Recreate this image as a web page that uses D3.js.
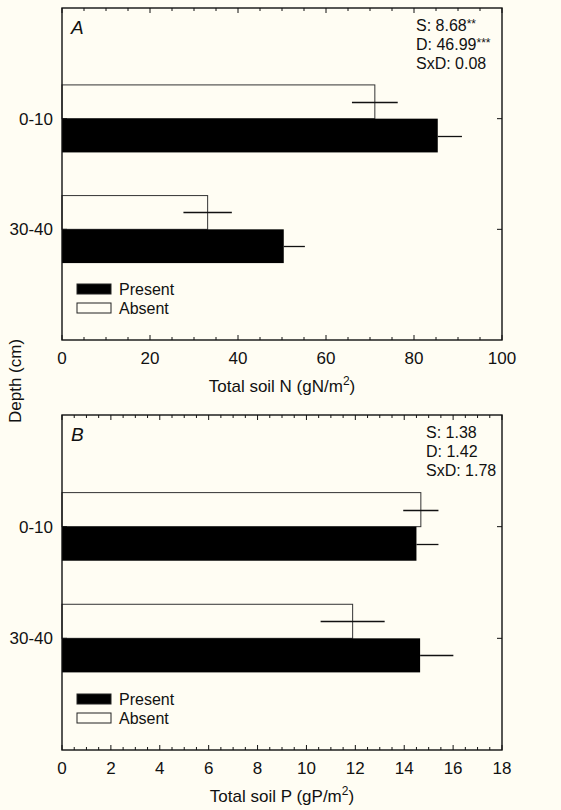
<!DOCTYPE html>
<html>
<head>
<meta charset="utf-8">
<script src="https://cdn.jsdelivr.net/npm/d3@7"></script>
<style>
  body { margin: 0; background: #fffdf3; }
  svg { display: block; font-family: "Liberation Sans", Arial, sans-serif; }
</style>
</head>
<body>
<svg width="561" height="810"></svg>
<script>
// depth classes (y categories)
const depths = ["0-10", "30-40"];
const seriesNames = ["Present", "Absent"];

// panel A: total soil N (gN/m2)
const nPresent = [85.4, 50.4];
const nPresentSe = [5.5, 4.8];
const nAbsent = [71.1, 33.1];
const nAbsentSe = [5.2, 5.5];
const nTicks = [0, 20, 40, 60, 80, 100];
const nStats = [["S: 8.68", "**"], ["D: 46.99", "***"], ["SxD: 0.08", ""]];

// panel B: total soil P (gP/m2)
const pPresent = [14.5, 14.65];
const pPresentSe = [0.9, 1.36];
const pAbsent = [14.68, 11.89];
const pAbsentSe = [0.72, 1.31];
const pTicks = [0, 2, 4, 6, 8, 10, 12, 14, 16, 18];
const pStats = [["S: 1.38", ""], ["D: 1.42", ""], ["SxD: 1.78", ""]];

const svg = d3.select("svg");
const left = 62;
const right = 502;

function drawPanel(p) {
  const g = svg.append("g");
  const x = d3.scaleLinear().domain([0, p.max]).range([left, right]);
  // categories sit at 1 and 2 on a 0..3 scale
  const y = d3.scaleLinear().domain([0, 3]).range([p.top, p.bottom]);
  const barH = y(0.305) - y(0);

  const rows = depths.map((d, i) => ({
    depth: d,
    pos: i + 1,
    present: p.present[i],
    presentSe: p.presentSe[i],
    absent: p.absent[i],
    absentSe: p.absentSe[i]
  }));

  // absent bars (open) above the category line, present (filled) below
  g.selectAll(".absent")
    .data(rows)
    .enter()
    .append("rect")
    .attr("x", x(0))
    .attr("y", d => y(d.pos) - barH)
    .attr("width", d => x(d.absent) - x(0))
    .attr("height", barH)
    .attr("fill", "none")
    .attr("stroke", "#333")
    .attr("stroke-width", 1);

  g.selectAll(".absent-err")
    .data(rows)
    .enter()
    .append("line")
    .attr("x1", d => x(d.absent - d.absentSe))
    .attr("x2", d => x(d.absent + d.absentSe))
    .attr("y1", d => Math.round(y(d.pos) - barH / 2) + 0.5)
    .attr("y2", d => Math.round(y(d.pos) - barH / 2) + 0.5)
    .attr("stroke", "#111")
    .attr("stroke-width", 1.3);

  g.selectAll(".present")
    .data(rows)
    .enter()
    .append("rect")
    .attr("x", x(0))
    .attr("y", d => y(d.pos))
    .attr("width", d => x(d.present) - x(0))
    .attr("height", barH)
    .attr("fill", "#000");

  // lower half of the error bar is hidden inside the filled bar
  g.selectAll(".present-err")
    .data(rows)
    .enter()
    .append("line")
    .attr("x1", d => x(d.present))
    .attr("x2", d => x(d.present + d.presentSe))
    .attr("y1", d => Math.round(y(d.pos) + barH / 2) + 0.5)
    .attr("y2", d => Math.round(y(d.pos) + barH / 2) + 0.5)
    .attr("stroke", "#111")
    .attr("stroke-width", 1.3);

  // frame
  g.append("rect")
    .attr("x", left)
    .attr("y", p.top)
    .attr("width", right - left)
    .attr("height", p.bottom - p.top)
    .attr("fill", "none")
    .attr("stroke", "#111")
    .attr("stroke-width", 1.4);

  // inward ticks, major + minor, bottom and top
  const minor = d3.range(0, p.max + 1e-9, p.minorStep);
  [[p.bottom, -1], [p.top, 1]].forEach(([yy, dir]) => {
    g.selectAll(null)
      .data(minor)
      .enter()
      .append("line")
      .attr("x1", d => x(d))
      .attr("x2", d => x(d))
      .attr("y1", yy)
      .attr("y2", d => yy + dir * (p.ticks.includes(+d.toFixed(3)) ? 5 : 3))
      .attr("stroke", "#111")
      .attr("stroke-width", 1);
  });

  // category ticks on both sides
  [[left, 1], [right, -1]].forEach(([xx, dir]) => {
    g.selectAll(null)
      .data(rows)
      .enter()
      .append("line")
      .attr("x1", xx)
      .attr("x2", xx + dir * 5)
      .attr("y1", d => y(d.pos))
      .attr("y2", d => y(d.pos))
      .attr("stroke", "#111")
      .attr("stroke-width", 1);
  });

  g.selectAll(".xlab")
    .data(p.ticks)
    .enter()
    .append("text")
    .attr("x", d => x(d))
    .attr("y", p.bottom + 24)
    .attr("text-anchor", "middle")
    .attr("font-size", 17)
    .attr("fill", "#111")
    .text(d => d);

  g.selectAll(".ylab")
    .data(rows)
    .enter()
    .append("text")
    .attr("x", left - 9)
    .attr("y", d => y(d.pos))
    .attr("dy", "0.35em")
    .attr("text-anchor", "end")
    .attr("font-size", 17)
    .attr("fill", "#111")
    .text(d => d.depth);

  // axis title with superscript
  const title = g.append("text")
    .attr("x", (left + right) / 2)
    .attr("y", p.bottom + 52)
    .attr("text-anchor", "middle")
    .attr("font-size", 17)
    .attr("fill", "#111");
  title.append("tspan").text(p.title);
  title.append("tspan").attr("font-size", 12).attr("dy", -7).text("2");
  title.append("tspan").attr("dy", 7).text(")");

  // panel letter
  g.append("text")
    .attr("x", left + 9)
    .attr("y", p.top + 26)
    .attr("font-size", 19)
    .attr("font-style", "italic")
    .attr("fill", "#111")
    .text(p.letter);

  // statistics
  p.stats.forEach((s, i) => {
    const t = g.append("text")
      .attr("x", p.statsX)
      .attr("y", p.top + 23 + i * 19)
      .attr("font-size", 16)
      .attr("fill", "#111");
    t.append("tspan").text(s[0]);
    if (s[1]) t.append("tspan").attr("font-size", 12).attr("dy", -3).text(s[1]);
  });

  // legend
  const lg = g.append("g")
    .attr("transform", `translate(${left + 15},${p.bottom - 56})`);
  seriesNames.forEach((name, i) => {
    lg.append("rect")
      .attr("x", 0)
      .attr("y", i * 19)
      .attr("width", 34)
      .attr("height", 10)
      .attr("fill", i === 0 ? "#000" : "none")
      .attr("stroke", "#222")
      .attr("stroke-width", 1);
    lg.append("text")
      .attr("x", 42)
      .attr("y", i * 19 + 5)
      .attr("dy", "0.35em")
      .attr("font-size", 16)
      .attr("fill", "#111")
      .text(name);
  });
}

drawPanel({
  letter: "A",
  top: 8, bottom: 340, max: 100, minorStep: 5, ticks: nTicks,
  present: nPresent, presentSe: nPresentSe, absent: nAbsent, absentSe: nAbsentSe,
  title: "Total soil N (gN/m", stats: nStats, statsX: 416
});

drawPanel({
  letter: "B",
  top: 415, bottom: 750, max: 18, minorStep: 0.5, ticks: pTicks,
  present: pPresent, presentSe: pPresentSe, absent: pAbsent, absentSe: pAbsentSe,
  title: "Total soil P (gP/m", stats: pStats, statsX: 426
});

svg.append("text")
  .attr("transform", "translate(21,381) rotate(-90)")
  .attr("text-anchor", "middle")
  .attr("font-size", 17)
  .attr("fill", "#111")
  .text("Depth (cm)");
</script>
</body>
</html>
